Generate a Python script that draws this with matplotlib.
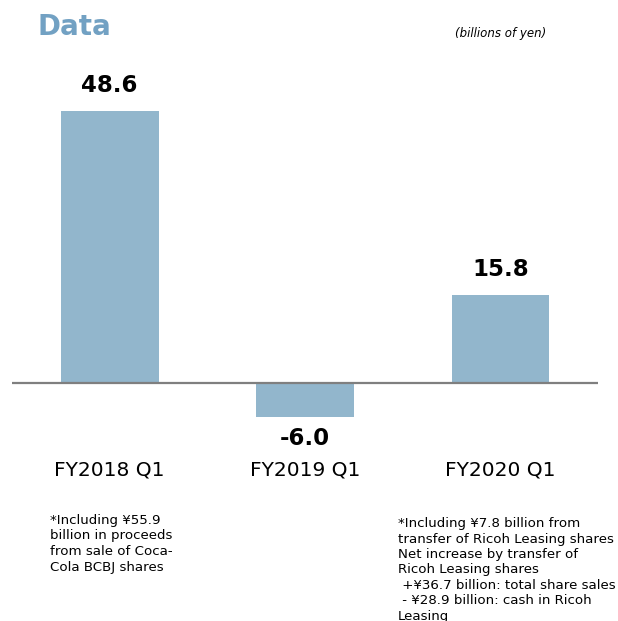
import matplotlib.pyplot as plt

# ДАННЫЕ
categories = ["FY2018 Q1", "FY2019 Q1", "FY2020 Q1"]
values = [48.6, -6.0, 15.8]
notes_left = "*Including ¥55.9\nbillion in proceeds\nfrom sale of Coca-\nCola BCBJ shares"
notes_right = ("*Including ¥7.8 billion from\ntransfer of Ricoh Leasing shares\n"
               "Net increase by transfer of\nRicoh Leasing shares\n"
               " +¥36.7 billion: total share sales\n - ¥28.9 billion: cash in Ricoh\nLeasing")

W, H = 618, 621
fig = plt.figure(figsize=(W / 100, H / 100), dpi=100)

# оси в пикселях: x 12..598, y 60..440
ax = fig.add_axes([12 / W, 1 - 440 / H, 586 / W, 380 / H])
x = range(len(values))
ax.bar(x, values, width=0.5, color="#92b6cc")
ax.axhline(0, color="#7f7f7f", linewidth=1.6)
ax.set_xlim(-0.5, 2.5)
ax.set_ylim(-57 / 5.6, 323 / 5.6)
ax.axis("off")

# подписи значений
for xi, v in zip(x, values):
    off = 18 if v >= 0 else -16
    ax.annotate(f"{v:.1f}", (xi, v), xytext=(0, off), textcoords="offset points",
                ha="center", va="center", fontsize=16.5, fontweight="bold")

# категории
for xi, c in zip(x, categories):
    ax.annotate(c, (xi, 0), xytext=(0, -63), textcoords="offset points",
                ha="center", va="center", fontsize=14.5)

# ЗАГОЛОВОК
fig.text(38 / W, 1 - 27 / H, "Data", fontsize=20, fontweight="bold",
         color="#72a1c3", ha="left", va="center")
fig.text(455 / W, 1 - 33 / H, "(billions of yen)", fontsize=8.5, style="italic",
         ha="left", va="center")

# примечания
fig.text(50 / W, 1 - 514 / H, notes_left, fontsize=9.6, ha="left", va="top",
         linespacing=1.25)
fig.text(398 / W, 1 - 517 / H, notes_right, fontsize=9.6, ha="left", va="top",
         linespacing=1.25)

fig.savefig("out.png", dpi=100)
